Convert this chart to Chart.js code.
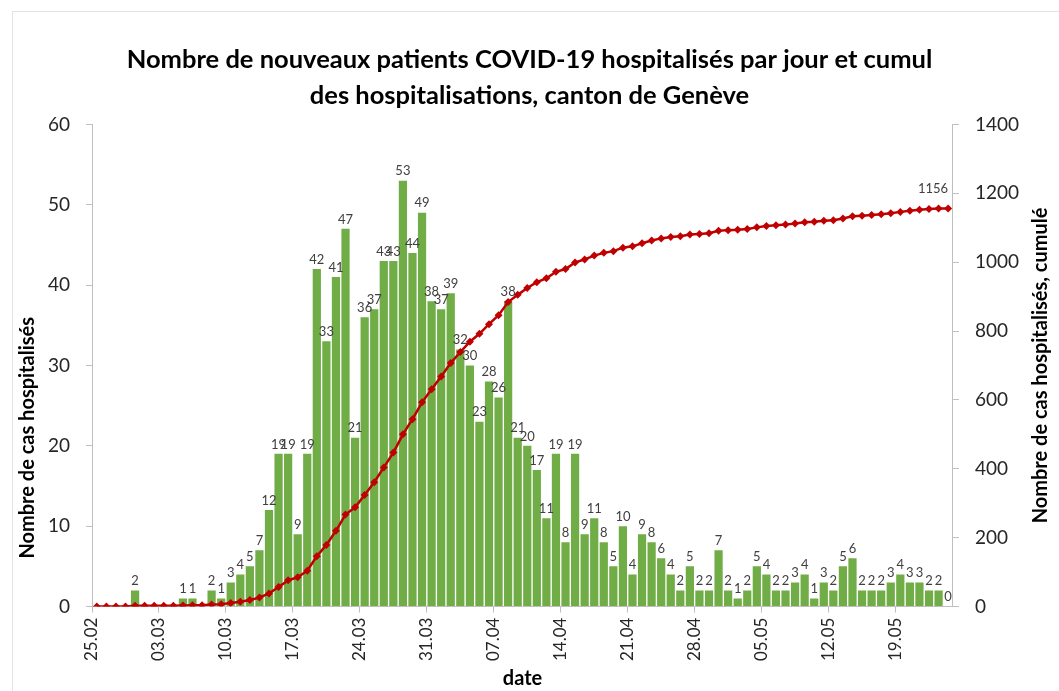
<!DOCTYPE html>
<html>
<head>
<meta charset="utf-8">
<script src="https://cdn.jsdelivr.net/npm/chart.js@4.4.0/dist/chart.umd.min.js"></script>
<style>
  html, body { margin: 0; padding: 0; background: #fff; overflow: hidden; }
  #wrap { position: relative; width: 1059px; height: 691px; }
  #frame { position: absolute; left: 12px; top: 11px; width: 1100px; height: 700px; border: 1px solid #e3e3e3; }
  canvas { position: absolute; left: 0; top: 0; }
</style>
</head>
<body>
<div id="wrap">
  <div id="frame"></div>
  <canvas id="myChart" width="1059" height="691"></canvas>
</div>
<script>
const dates = [
  "25.02", "26.02", "27.02", "28.02", "29.02",
  "01.03", "02.03", "03.03", "04.03", "05.03", "06.03", "07.03", "08.03", "09.03", "10.03",
  "11.03", "12.03", "13.03", "14.03", "15.03", "16.03", "17.03", "18.03", "19.03", "20.03",
  "21.03", "22.03", "23.03", "24.03", "25.03", "26.03", "27.03", "28.03", "29.03", "30.03", "31.03",
  "01.04", "02.04", "03.04", "04.04", "05.04", "06.04", "07.04", "08.04", "09.04", "10.04",
  "11.04", "12.04", "13.04", "14.04", "15.04", "16.04", "17.04", "18.04", "19.04", "20.04",
  "21.04", "22.04", "23.04", "24.04", "25.04", "26.04", "27.04", "28.04", "29.04", "30.04",
  "01.05", "02.05", "03.05", "04.05", "05.05", "06.05", "07.05", "08.05", "09.05", "10.05",
  "11.05", "12.05", "13.05", "14.05", "15.05", "16.05", "17.05", "18.05", "19.05", "20.05",
  "21.05", "22.05", "23.05", "24.05"
];

// nouveaux patients hospitalisés par jour
const nouveaux = [
  0, 0, 0, 0, 2,
  0, 0, 0, 0, 1, 1, 0, 2, 1, 3,
  4, 5, 7, 12, 19, 19, 9, 19, 42, 33,
  41, 47, 21, 36, 37, 43, 43, 53, 44, 49, 38,
  37, 39, 32, 30, 23, 28, 26, 38, 21, 20,
  17, 11, 19, 8, 19, 9, 11, 8, 5, 10,
  4, 9, 8, 6, 4, 2, 5, 2, 2, 7,
  2, 1, 2, 5, 4, 2, 2, 3, 4, 1,
  3, 2, 5, 6, 2, 2, 2, 3, 4, 3,
  3, 2, 2, 0
];

// cumul des hospitalisations
const cumul = [
  0, 0, 0, 0, 2,
  2, 2, 2, 2, 3, 4, 4, 6, 7, 10,
  14, 19, 26, 38, 57, 76, 85, 104, 146, 179,
  220, 267, 288, 324, 361, 404, 447, 500, 544, 593, 631,
  668, 707, 739, 769, 792, 820, 846, 884, 905, 925,
  942, 953, 972, 980, 999, 1008, 1019, 1027, 1032, 1042,
  1046, 1055, 1063, 1069, 1073, 1075, 1080, 1082, 1084, 1091,
  1093, 1094, 1096, 1101, 1105, 1107, 1109, 1112, 1116, 1117,
  1120, 1122, 1127, 1133, 1135, 1137, 1139, 1142, 1146, 1149,
  1152, 1154, 1156, 1156
];

const tickStep = 7;
const font = "Lato";
const axisGray = "#bfbfbf";
const textColor = "#262626";

// valeurs au-dessus des barres + dernier cumul
const valueLabels = {
  id: "valueLabels",
  afterDatasetsDraw(chart) {
    const ctx = chart.ctx;
    ctx.save();
    ctx.fillStyle = "#404040";
    ctx.font = "13px " + font;
    ctx.textAlign = "center";
    ctx.textBaseline = "bottom";
    const bars = chart.getDatasetMeta(1).data;
    bars.forEach((bar, i) => {
      // Excel n'affiche pas les zéros du début
      if (nouveaux[i] === 0 && i !== bars.length - 1) return;
      ctx.fillText(String(nouveaux[i]), bar.x, bar.y - 3);
    });
    const pts = chart.getDatasetMeta(0).data;
    const last = pts[pts.length - 1];
    ctx.textAlign = "right";
    ctx.fillText(String(cumul[cumul.length - 1]), last.x, last.y - 13);
    ctx.restore();
  }
};

// titres d'axes verticaux (les deux lisent de bas en haut)
const axisTitles = {
  id: "axisTitles",
  afterDraw(chart) {
    const ctx = chart.ctx;
    const area = chart.chartArea;
    ctx.save();
    ctx.fillStyle = "#000";
    ctx.font = "bold 20px " + font;
    ctx.textAlign = "center";
    ctx.textBaseline = "middle";
    const y = chart.scales.y;
    ctx.translate(y.left + 28, area.bottom - (area.bottom - area.top) * 0.35);
    ctx.rotate(-Math.PI / 2);
    ctx.fillText("Nombre de cas hospitalisés", 0, 0);
    ctx.restore();
    ctx.save();
    ctx.fillStyle = "#000";
    ctx.font = "bold 20px " + font;
    ctx.textAlign = "center";
    ctx.textBaseline = "middle";
    const y1 = chart.scales.y1;
    ctx.translate(y1.right - 18, (area.top + area.bottom) / 2);
    ctx.rotate(-Math.PI / 2);
    ctx.fillText("Nombre de cas hospitalisés, cumulé", 0, 0);
    ctx.restore();
  }
};

const config = {
  data: {
    labels: dates,
    datasets: [
      {
        type: "line",
        label: "Cumul",
        data: cumul,
        yAxisID: "y1",
        borderColor: "#c00000",
        backgroundColor: "#c00000",
        borderWidth: 2.5,
        pointStyle: "rectRot",
        pointRadius: 4,
        pointBorderWidth: 0,
        tension: 0,
        order: 0
      },
      {
        type: "bar",
        label: "Nouveaux",
        data: nouveaux,
        yAxisID: "y",
        backgroundColor: "#70ad47",
        categoryPercentage: 1,
        barPercentage: 0.86,
        order: 1
      }
    ]
  },
  options: {
    responsive: false,
    animation: false,
    layout: { padding: { top: 12, right: 0, bottom: 0, left: 0 } },
    plugins: {
      legend: { display: false },
      tooltip: { enabled: false },
      title: {
        display: true,
        text: ["Nombre de nouveaux patients COVID-19 hospitalisés par jour et cumul", "des hospitalisations, canton de Genève"],
        color: "#000",
        font: { family: font, size: 25.5, weight: "bold", lineHeight: 1.4 },
        padding: { top: 30, bottom: 11 }
      }
    },
    scales: {
      x: {
        offset: true,
        grid: {
          offset: true,
          drawOnChartArea: false,
          tickLength: 6,
          color: (c) => (c.index % tickStep === 0 ? axisGray : "transparent")
        },
        border: { display: true, color: axisGray },
        ticks: {
          autoSkip: false,
          maxRotation: 90,
          minRotation: 90,
          labelOffset: -5,
          padding: 5,
          color: textColor,
          font: { family: font, size: 17 },
          callback: (v, i) => (i % tickStep === 0 ? dates[i] : "")
        },
        title: {
          display: true,
          text: "date",
          color: "#000",
          font: { family: font, size: 20, weight: "bold" },
          padding: { top: 1, bottom: 0 }
        }
      },
      y: {
        position: "left",
        min: 0,
        max: 60,
        ticks: { stepSize: 10, padding: 16, color: textColor, font: { family: font, size: 19 } },
        grid: { drawOnChartArea: false, tickLength: 6, color: axisGray },
        border: { display: true, color: axisGray },
        title: { display: true, text: " ", color: "transparent", font: { family: font, size: 20, weight: "bold" }, padding: 4 }
      },
      y1: {
        position: "right",
        min: 0,
        max: 1400,
        ticks: {
          stepSize: 200,
          padding: 16,
          color: textColor,
          font: { family: font, size: 19 },
          callback: (v) => String(v)
        },
        grid: { drawOnChartArea: false, tickLength: 6, color: axisGray },
        border: { display: true, color: axisGray },
        title: { display: true, text: " ", color: "transparent", font: { family: font, size: 20, weight: "bold" }, padding: 0 }
      }
    }
  },
  plugins: [valueLabels, axisTitles]
};

new Chart(document.getElementById("myChart"), config);
</script>
</body>
</html>
